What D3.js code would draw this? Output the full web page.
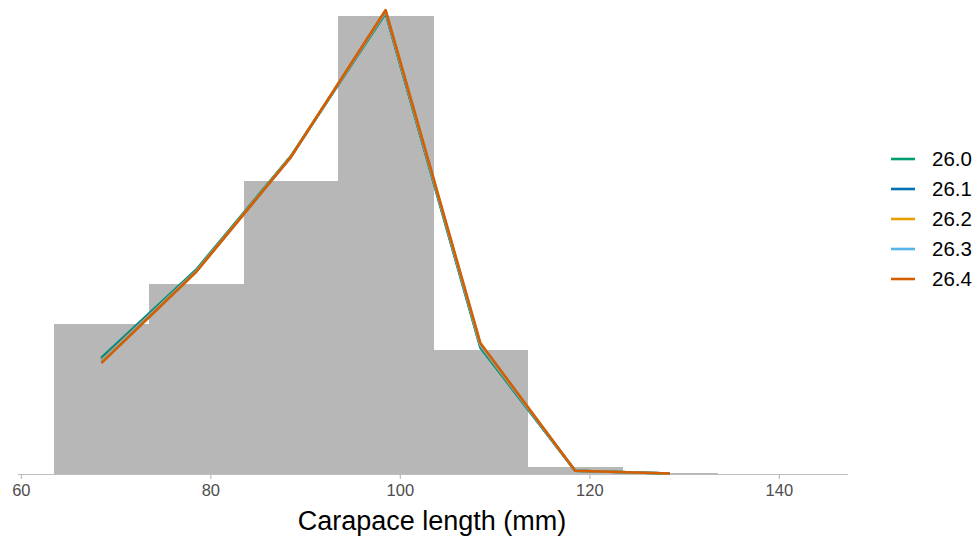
<!DOCTYPE html>
<html><head><meta charset="utf-8">
<script src="https://cdn.jsdelivr.net/npm/d3@7"></script>
<style>body{margin:0;background:#fff}svg{display:block}</style>
</head><body>
<script>
const binStarts = [63.5, 73.5, 83.5, 93.5, 103.5, 113.5, 123.5];
const binWidth = 10;
const binHeights = [32.8, 41.5, 64.0, 100.0, 27.1, 1.5, 0.2];
const midpoints = [68.5, 78.5, 88.5, 98.5, 108.5, 118.5, 128.5];
const seriesNames = ["26.0", "26.1", "26.2", "26.3", "26.4"];
const s260 = [25.4, 44.6, 69.4, 100.6, 27.6, 0.7, 0.1];
const s261 = [25.1, 44.4, 69.3, 100.8, 27.9, 0.7, 0.1];
const s262 = [24.8, 44.3, 69.3, 101.0, 28.1, 0.7, 0.1];
const s263 = [24.5, 44.2, 69.2, 101.1, 28.3, 0.7, 0.1];
const s264 = [24.2, 44.1, 69.2, 101.3, 28.6, 0.7, 0.1];
const seriesValues = [s260, s261, s262, s263, s264];
const colors = ["#009E73", "#0072B2", "#E69F00", "#56B4E9", "#D55E00"];
const xTicks = [60, 80, 100, 120, 140];

const W = 979, H = 537;
const svg = d3.select("body").append("svg").attr("width", W).attr("height", H);
const x = d3.scaleLinear().domain([59.7, 147.3]).range([18, 848]);
const y = d3.scaleLinear().domain([0, 100]).range([474, 16]);

svg.append("g").attr("shape-rendering", "crispEdges").selectAll("rect").data(binStarts).join("rect")
  .attr("x", d => x(d)).attr("width", d => x(d + binWidth) - x(d) + 0.5)
  .attr("y", (d, i) => y(binHeights[i])).attr("height", (d, i) => y(0) - y(binHeights[i]))
  .attr("fill", "#b7b7b7");

const ax = svg.append("g").attr("transform", `translate(0,${y(0)})`)
  .call(d3.axisBottom(x).tickValues(xTicks).tickSize(5).tickPadding(5).tickFormat(d3.format("d")));
ax.select(".domain").attr("stroke", "#bdbdbd").attr("stroke-width", 1.2).attr("d", `M${x(59.7)},0.5H${x(147.3)}`);
ax.selectAll(".tick line").attr("stroke", "#bdbdbd").attr("stroke-width", 1.2);
ax.selectAll(".tick text").attr("fill", "#4d4d4d").style("font-family", "Liberation Sans, Arial, sans-serif").style("font-size", "16.5px");

const line = d3.line().x((d, i) => x(midpoints[i])).y(d => y(d));
svg.append("g").selectAll("path").data(seriesValues).join("path")
  .attr("d", d => line(d)).attr("fill", "none")
  .attr("stroke", (d, i) => colors[i]).attr("stroke-width", 2.6).attr("stroke-linejoin", "round");

svg.append("text").attr("x", 432).attr("y", 530).attr("text-anchor", "middle")
  .style("font-family", "Liberation Sans, Arial, sans-serif").style("font-size", "27px").attr("fill", "#000")
  .text("Carapace length (mm)");

const lg = svg.append("g");
seriesNames.forEach((n, i) => {
  const yy = 159 + i * 30;
  lg.append("line").attr("x1", 891).attr("x2", 915).attr("y1", yy).attr("y2", yy)
    .attr("stroke", colors[i]).attr("stroke-width", 2.6);
  lg.append("text").attr("x", 932).attr("y", yy).attr("dy", "0.36em")
    .style("font-family", "Liberation Sans, Arial, sans-serif").style("font-size", "20.5px").attr("fill", "#000").text(n);
});
</script>
</body></html>
